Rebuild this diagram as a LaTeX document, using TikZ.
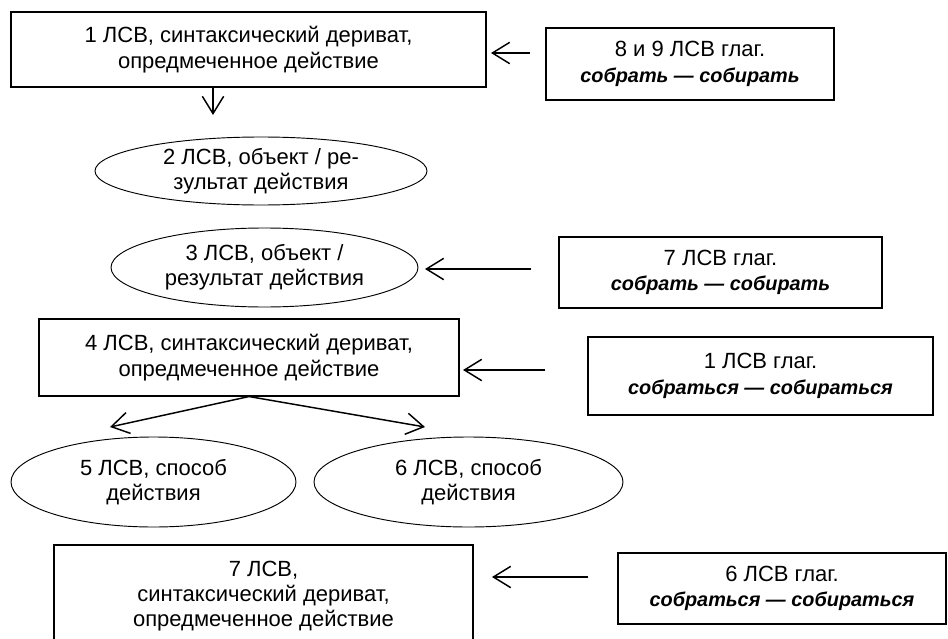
\documentclass[tikz,border=0pt]{standalone}
\usepackage{fontspec}
\setmainfont{Liberation Sans}
\usetikzlibrary{shapes.geometric,arrows.meta}

\newcommand{\verbname}[1]{{\fontsize{14.9}{19}\selectfont\textbf{\textit{#1}}}}

\begin{document}
\begin{tikzpicture}[x=.75pt, y=-.75pt,
  font=\fontsize{16.5}{19}\selectfont,
  lsvbox/.style={draw, line width=.8pt, rectangle, align=center, inner sep=0pt},
  lsvoval/.style={draw, line width=.7pt, ellipse, align=center, inner sep=0pt},
  arr/.style={line width=1.1pt, -{Straight Barb[length=13pt,width=16pt]}}]
  \clip (0,0) rectangle (948,638);

  \node[lsvbox, minimum width=356.25pt, minimum height=56.25pt] (lsv1) at (248.5,49.5)
    {1 ЛСВ, синтаксический дериват,\\опредмеченное действие};
  \node[lsvbox, minimum width=216pt, minimum height=54pt] (glag89) at (690,64)
    {8 и 9 ЛСВ глаг.\\\verbname{собрать — собирать}};
  \node[lsvoval, minimum width=249pt, minimum height=51pt] (lsv2) at (261,171)
    {2 ЛСВ, объект / ре-\\зультат действия};
  \node[lsvoval, minimum width=230.25pt, minimum height=59.25pt] (lsv3) at (264.5,267.5)
    {3 ЛСВ, объект /\\результат действия};
  \node[lsvbox, minimum width=242.25pt, minimum height=53.25pt] (glag7) at (720.5,272.5)
    {7 ЛСВ глаг.\\\verbname{собрать — собирать}};
  \node[lsvbox, minimum width=315pt, minimum height=57.75pt] (lsv4) at (249,357.5)
    {4 ЛСВ, синтаксический дериват,\\опредмеченное действие};
  \node[lsvbox, minimum width=258.75pt, minimum height=58.5pt] (glag1) at (760.5,376)
    {1 ЛСВ глаг.\\\verbname{собраться — собираться}};
  \node[lsvoval, minimum width=213.75pt, minimum height=67.5pt] (lsv5) at (153.5,482)
    {5 ЛСВ, способ\\действия};
  \node[lsvoval, minimum width=231.75pt, minimum height=67.5pt] (lsv6) at (468.5,482)
    {6 ЛСВ, способ\\действия};
  \node[lsvbox, minimum width=314.25pt, minimum height=76.5pt] (lsv7) at (263.5,596)
    {7 ЛСВ,\\синтаксический дериват,\\опредмеченное действие};
  \node[lsvbox, minimum width=246pt, minimum height=53.25pt] (glag6) at (782,588.5)
    {6 ЛСВ глаг.\\\verbname{собраться — собираться}};

  \coordinate (tip1) at (213,115);
  \coordinate (tip89) at (491,53);
  \coordinate (tip7) at (425,269);
  \coordinate (tip1g) at (463,370);
  \coordinate (tip5) at (110,427);
  \coordinate (tip6) at (425,427);
  \coordinate (tip6g) at (492,577);

  \draw[arr] (lsv1.south -| tip1) -- (tip1);
  \draw[arr] ([xshift=-11.25pt]glag89.west |- tip89) -- (tip89);
  \draw[arr] ([xshift=-20.25pt]glag7.west |- tip7) -- (tip7);
  \draw[arr] ([xshift=-31.5pt]glag1.west |- tip1g) -- (tip1g);
  \draw[arr] (lsv4.south) -- (tip5);
  \draw[arr] (lsv4.south) -- (tip6);
  \draw[arr] ([xshift=-21.75pt]glag6.west |- tip6g) -- (tip6g);
\end{tikzpicture}
\end{document}
